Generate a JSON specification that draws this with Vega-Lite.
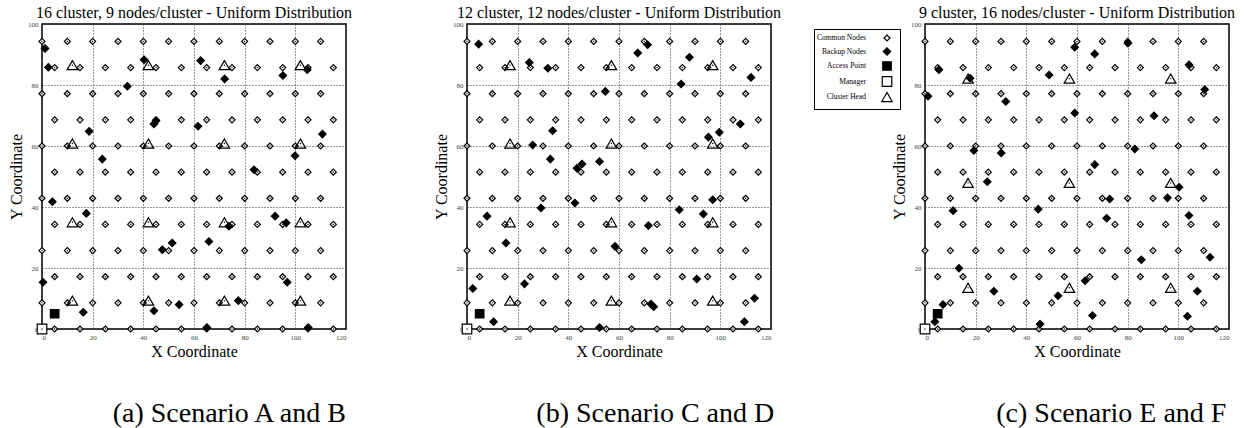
{
"$schema": "https://vega.github.io/schema/vega-lite/v6.json",
"padding": {"left": 7, "top": 4, "right": 0, "bottom": 0},
"config": {
  "font": "Liberation Serif",
  "view": {"stroke": "black", "strokeWidth": 1.5},
  "axis": {"grid": true, "gridDash": [1, 2], "gridColor": "#333", "gridWidth": 1, "gridOpacity": 1, "domain": false, "ticks": false, "labelFont": "Liberation Serif", "labelFontSize": 7, "labelColor": "#444", "titleFont": "Liberation Serif", "titleFontSize": 16, "titleFontWeight": "normal", "titleColor": "black", "labelPadding": 4, "titlePadding": 3},
  "title": {"font": "Liberation Serif", "fontSize": 16, "fontWeight": "normal", "color": "black", "offset": -1},
  "concat": {"spacing": 20}
},
"datasets": {
"nodes": [
{"panel":"all","type":"Common Nodes","x":5,"y":0},{"panel":"all","type":"Common Nodes","x":15,"y":0},{"panel":"all","type":"Common Nodes","x":25,"y":0},{"panel":"all","type":"Common Nodes","x":35,"y":0},{"panel":"all","type":"Common Nodes","x":45,"y":0},{"panel":"all","type":"Common Nodes","x":55,"y":0},{"panel":"all","type":"Common Nodes","x":65,"y":0},{"panel":"all","type":"Common Nodes","x":75,"y":0},{"panel":"all","type":"Common Nodes","x":85,"y":0},{"panel":"all","type":"Common Nodes","x":95,"y":0},{"panel":"all","type":"Common Nodes","x":105,"y":0},{"panel":"all","type":"Common Nodes","x":115,"y":0},
{"panel":"all","type":"Common Nodes","x":0,"y":8.57},{"panel":"all","type":"Common Nodes","x":10,"y":8.57},{"panel":"all","type":"Common Nodes","x":20,"y":8.57},{"panel":"all","type":"Common Nodes","x":30,"y":8.57},{"panel":"all","type":"Common Nodes","x":40,"y":8.57},{"panel":"all","type":"Common Nodes","x":50,"y":8.57},{"panel":"all","type":"Common Nodes","x":60,"y":8.57},{"panel":"all","type":"Common Nodes","x":70,"y":8.57},{"panel":"all","type":"Common Nodes","x":80,"y":8.57},{"panel":"all","type":"Common Nodes","x":90,"y":8.57},{"panel":"all","type":"Common Nodes","x":100,"y":8.57},{"panel":"all","type":"Common Nodes","x":110,"y":8.57},
{"panel":"all","type":"Common Nodes","x":5,"y":17.14},{"panel":"all","type":"Common Nodes","x":15,"y":17.14},{"panel":"all","type":"Common Nodes","x":25,"y":17.14},{"panel":"all","type":"Common Nodes","x":35,"y":17.14},{"panel":"all","type":"Common Nodes","x":45,"y":17.14},{"panel":"all","type":"Common Nodes","x":55,"y":17.14},{"panel":"all","type":"Common Nodes","x":65,"y":17.14},{"panel":"all","type":"Common Nodes","x":75,"y":17.14},{"panel":"all","type":"Common Nodes","x":85,"y":17.14},{"panel":"all","type":"Common Nodes","x":95,"y":17.14},{"panel":"all","type":"Common Nodes","x":105,"y":17.14},{"panel":"all","type":"Common Nodes","x":115,"y":17.14},
{"panel":"all","type":"Common Nodes","x":0,"y":25.71},{"panel":"all","type":"Common Nodes","x":10,"y":25.71},{"panel":"all","type":"Common Nodes","x":20,"y":25.71},{"panel":"all","type":"Common Nodes","x":30,"y":25.71},{"panel":"all","type":"Common Nodes","x":40,"y":25.71},{"panel":"all","type":"Common Nodes","x":50,"y":25.71},{"panel":"all","type":"Common Nodes","x":60,"y":25.71},{"panel":"all","type":"Common Nodes","x":70,"y":25.71},{"panel":"all","type":"Common Nodes","x":80,"y":25.71},{"panel":"all","type":"Common Nodes","x":90,"y":25.71},{"panel":"all","type":"Common Nodes","x":100,"y":25.71},{"panel":"all","type":"Common Nodes","x":110,"y":25.71},
{"panel":"all","type":"Common Nodes","x":5,"y":34.29},{"panel":"all","type":"Common Nodes","x":15,"y":34.29},{"panel":"all","type":"Common Nodes","x":25,"y":34.29},{"panel":"all","type":"Common Nodes","x":35,"y":34.29},{"panel":"all","type":"Common Nodes","x":45,"y":34.29},{"panel":"all","type":"Common Nodes","x":55,"y":34.29},{"panel":"all","type":"Common Nodes","x":65,"y":34.29},{"panel":"all","type":"Common Nodes","x":75,"y":34.29},{"panel":"all","type":"Common Nodes","x":85,"y":34.29},{"panel":"all","type":"Common Nodes","x":95,"y":34.29},{"panel":"all","type":"Common Nodes","x":105,"y":34.29},{"panel":"all","type":"Common Nodes","x":115,"y":34.29},
{"panel":"all","type":"Common Nodes","x":0,"y":42.86},{"panel":"all","type":"Common Nodes","x":10,"y":42.86},{"panel":"all","type":"Common Nodes","x":20,"y":42.86},{"panel":"all","type":"Common Nodes","x":30,"y":42.86},{"panel":"all","type":"Common Nodes","x":40,"y":42.86},{"panel":"all","type":"Common Nodes","x":50,"y":42.86},{"panel":"all","type":"Common Nodes","x":60,"y":42.86},{"panel":"all","type":"Common Nodes","x":70,"y":42.86},{"panel":"all","type":"Common Nodes","x":80,"y":42.86},{"panel":"all","type":"Common Nodes","x":90,"y":42.86},{"panel":"all","type":"Common Nodes","x":100,"y":42.86},{"panel":"all","type":"Common Nodes","x":110,"y":42.86},
{"panel":"all","type":"Common Nodes","x":5,"y":51.43},{"panel":"all","type":"Common Nodes","x":15,"y":51.43},{"panel":"all","type":"Common Nodes","x":25,"y":51.43},{"panel":"all","type":"Common Nodes","x":35,"y":51.43},{"panel":"all","type":"Common Nodes","x":45,"y":51.43},{"panel":"all","type":"Common Nodes","x":55,"y":51.43},{"panel":"all","type":"Common Nodes","x":65,"y":51.43},{"panel":"all","type":"Common Nodes","x":75,"y":51.43},{"panel":"all","type":"Common Nodes","x":85,"y":51.43},{"panel":"all","type":"Common Nodes","x":95,"y":51.43},{"panel":"all","type":"Common Nodes","x":105,"y":51.43},{"panel":"all","type":"Common Nodes","x":115,"y":51.43},
{"panel":"all","type":"Common Nodes","x":0,"y":60},{"panel":"all","type":"Common Nodes","x":10,"y":60},{"panel":"all","type":"Common Nodes","x":20,"y":60},{"panel":"all","type":"Common Nodes","x":30,"y":60},{"panel":"all","type":"Common Nodes","x":40,"y":60},{"panel":"all","type":"Common Nodes","x":50,"y":60},{"panel":"all","type":"Common Nodes","x":60,"y":60},{"panel":"all","type":"Common Nodes","x":70,"y":60},{"panel":"all","type":"Common Nodes","x":80,"y":60},{"panel":"all","type":"Common Nodes","x":90,"y":60},{"panel":"all","type":"Common Nodes","x":100,"y":60},{"panel":"all","type":"Common Nodes","x":110,"y":60},
{"panel":"all","type":"Common Nodes","x":5,"y":68.57},{"panel":"all","type":"Common Nodes","x":15,"y":68.57},{"panel":"all","type":"Common Nodes","x":25,"y":68.57},{"panel":"all","type":"Common Nodes","x":35,"y":68.57},{"panel":"all","type":"Common Nodes","x":45,"y":68.57},{"panel":"all","type":"Common Nodes","x":55,"y":68.57},{"panel":"all","type":"Common Nodes","x":65,"y":68.57},{"panel":"all","type":"Common Nodes","x":75,"y":68.57},{"panel":"all","type":"Common Nodes","x":85,"y":68.57},{"panel":"all","type":"Common Nodes","x":95,"y":68.57},{"panel":"all","type":"Common Nodes","x":105,"y":68.57},{"panel":"all","type":"Common Nodes","x":115,"y":68.57},
{"panel":"all","type":"Common Nodes","x":0,"y":77.14},{"panel":"all","type":"Common Nodes","x":10,"y":77.14},{"panel":"all","type":"Common Nodes","x":20,"y":77.14},{"panel":"all","type":"Common Nodes","x":30,"y":77.14},{"panel":"all","type":"Common Nodes","x":40,"y":77.14},{"panel":"all","type":"Common Nodes","x":50,"y":77.14},{"panel":"all","type":"Common Nodes","x":60,"y":77.14},{"panel":"all","type":"Common Nodes","x":70,"y":77.14},{"panel":"all","type":"Common Nodes","x":80,"y":77.14},{"panel":"all","type":"Common Nodes","x":90,"y":77.14},{"panel":"all","type":"Common Nodes","x":100,"y":77.14},{"panel":"all","type":"Common Nodes","x":110,"y":77.14},
{"panel":"all","type":"Common Nodes","x":5,"y":85.71},{"panel":"all","type":"Common Nodes","x":15,"y":85.71},{"panel":"all","type":"Common Nodes","x":25,"y":85.71},{"panel":"all","type":"Common Nodes","x":35,"y":85.71},{"panel":"all","type":"Common Nodes","x":45,"y":85.71},{"panel":"all","type":"Common Nodes","x":55,"y":85.71},{"panel":"all","type":"Common Nodes","x":65,"y":85.71},{"panel":"all","type":"Common Nodes","x":75,"y":85.71},{"panel":"all","type":"Common Nodes","x":85,"y":85.71},{"panel":"all","type":"Common Nodes","x":95,"y":85.71},{"panel":"all","type":"Common Nodes","x":105,"y":85.71},{"panel":"all","type":"Common Nodes","x":115,"y":85.71},
{"panel":"all","type":"Common Nodes","x":0,"y":94.29},{"panel":"all","type":"Common Nodes","x":10,"y":94.29},{"panel":"all","type":"Common Nodes","x":20,"y":94.29},{"panel":"all","type":"Common Nodes","x":30,"y":94.29},{"panel":"all","type":"Common Nodes","x":40,"y":94.29},{"panel":"all","type":"Common Nodes","x":50,"y":94.29},{"panel":"all","type":"Common Nodes","x":60,"y":94.29},{"panel":"all","type":"Common Nodes","x":70,"y":94.29},{"panel":"all","type":"Common Nodes","x":80,"y":94.29},{"panel":"all","type":"Common Nodes","x":90,"y":94.29},{"panel":"all","type":"Common Nodes","x":100,"y":94.29},{"panel":"all","type":"Common Nodes","x":110,"y":94.29},

{"panel":"a","type":"Backup Nodes","x":1.2,"y":92.0},{"panel":"a","type":"Backup Nodes","x":2.5,"y":85.8},{"panel":"a","type":"Backup Nodes","x":40.3,"y":88.3},{"panel":"a","type":"Backup Nodes","x":62.6,"y":88.0},{"panel":"a","type":"Backup Nodes","x":72.1,"y":82.0},{"panel":"a","type":"Backup Nodes","x":95.1,"y":83.1},{"panel":"a","type":"Backup Nodes","x":104.7,"y":85.0},{"panel":"a","type":"Backup Nodes","x":33.7,"y":79.6},{"panel":"a","type":"Backup Nodes","x":44.2,"y":67.2},{"panel":"a","type":"Backup Nodes","x":45.0,"y":68.3},{"panel":"a","type":"Backup Nodes","x":61.6,"y":66.5},{"panel":"a","type":"Backup Nodes","x":18.6,"y":64.8},{"panel":"a","type":"Backup Nodes","x":110.7,"y":63.9},{"panel":"a","type":"Backup Nodes","x":23.8,"y":55.7},{"panel":"a","type":"Backup Nodes","x":99.9,"y":56.8},{"panel":"a","type":"Backup Nodes","x":83.7,"y":52.2},{"panel":"a","type":"Backup Nodes","x":4.1,"y":41.7},{"panel":"a","type":"Backup Nodes","x":17.5,"y":37.9},{"panel":"a","type":"Backup Nodes","x":92.0,"y":37.0},{"panel":"a","type":"Backup Nodes","x":96.4,"y":34.8},{"panel":"a","type":"Backup Nodes","x":73.8,"y":33.7},{"panel":"a","type":"Backup Nodes","x":51.4,"y":28.2},{"panel":"a","type":"Backup Nodes","x":47.5,"y":26.0},{"panel":"a","type":"Backup Nodes","x":65.9,"y":28.7},{"panel":"a","type":"Backup Nodes","x":0.4,"y":15.3},{"panel":"a","type":"Backup Nodes","x":96.8,"y":15.3},{"panel":"a","type":"Backup Nodes","x":16.3,"y":5.5},{"panel":"a","type":"Backup Nodes","x":44.2,"y":6.0},{"panel":"a","type":"Backup Nodes","x":54.1,"y":8.0},{"panel":"a","type":"Backup Nodes","x":77.5,"y":9.3},{"panel":"a","type":"Backup Nodes","x":65.1,"y":0.5},{"panel":"a","type":"Backup Nodes","x":105.1,"y":0.5},
{"panel":"a","type":"Access Point","x":5,"y":5},
{"panel":"a","type":"Manager","x":0,"y":0},
{"panel":"a","type":"Cluster Head","x":12,"y":86.5},{"panel":"a","type":"Cluster Head","x":42,"y":86.5},{"panel":"a","type":"Cluster Head","x":72,"y":86.5},{"panel":"a","type":"Cluster Head","x":102,"y":86.5},
{"panel":"a","type":"Cluster Head","x":12,"y":60.8},{"panel":"a","type":"Cluster Head","x":42,"y":60.8},{"panel":"a","type":"Cluster Head","x":72,"y":60.8},{"panel":"a","type":"Cluster Head","x":102,"y":60.8},
{"panel":"a","type":"Cluster Head","x":12,"y":35.0},{"panel":"a","type":"Cluster Head","x":42,"y":35.0},{"panel":"a","type":"Cluster Head","x":72,"y":35.0},{"panel":"a","type":"Cluster Head","x":102,"y":35.0},
{"panel":"a","type":"Cluster Head","x":12,"y":9.3},{"panel":"a","type":"Cluster Head","x":42,"y":9.3},{"panel":"a","type":"Cluster Head","x":72,"y":9.3},{"panel":"a","type":"Cluster Head","x":102,"y":9.3},

{"panel":"b","type":"Backup Nodes","x":4.6,"y":93.4},{"panel":"b","type":"Backup Nodes","x":24.6,"y":87.4},{"panel":"b","type":"Backup Nodes","x":31.9,"y":85.5},{"panel":"b","type":"Backup Nodes","x":67.4,"y":90.5},{"panel":"b","type":"Backup Nodes","x":71.3,"y":93.2},{"panel":"b","type":"Backup Nodes","x":87.8,"y":89.1},{"panel":"b","type":"Backup Nodes","x":84.5,"y":80.3},{"panel":"b","type":"Backup Nodes","x":112.1,"y":82.5},{"panel":"b","type":"Backup Nodes","x":54.6,"y":77.9},{"panel":"b","type":"Backup Nodes","x":33.8,"y":65.0},{"panel":"b","type":"Backup Nodes","x":107.9,"y":67.2},{"panel":"b","type":"Backup Nodes","x":99.6,"y":64.5},{"panel":"b","type":"Backup Nodes","x":95.3,"y":62.9},{"panel":"b","type":"Backup Nodes","x":25.9,"y":60.3},{"panel":"b","type":"Backup Nodes","x":32.9,"y":55.7},{"panel":"b","type":"Backup Nodes","x":43.4,"y":52.7},{"panel":"b","type":"Backup Nodes","x":45.4,"y":54.1},{"panel":"b","type":"Backup Nodes","x":52.3,"y":54.9},{"panel":"b","type":"Backup Nodes","x":7.9,"y":37.0},{"panel":"b","type":"Backup Nodes","x":29.2,"y":39.7},{"panel":"b","type":"Backup Nodes","x":42.6,"y":41.3},{"panel":"b","type":"Backup Nodes","x":15.4,"y":28.2},{"panel":"b","type":"Backup Nodes","x":58.4,"y":27.1},{"panel":"b","type":"Backup Nodes","x":71.6,"y":33.9},{"panel":"b","type":"Backup Nodes","x":83.8,"y":39.1},{"panel":"b","type":"Backup Nodes","x":93.3,"y":37.7},{"panel":"b","type":"Backup Nodes","x":97.0,"y":42.4},{"panel":"b","type":"Backup Nodes","x":2.3,"y":13.3},{"panel":"b","type":"Backup Nodes","x":22.7,"y":14.8},{"panel":"b","type":"Backup Nodes","x":10.5,"y":2.4},{"panel":"b","type":"Backup Nodes","x":52.3,"y":0.5},{"panel":"b","type":"Backup Nodes","x":72.6,"y":8.2},{"panel":"b","type":"Backup Nodes","x":73.7,"y":7.3},{"panel":"b","type":"Backup Nodes","x":90.7,"y":16.4},{"panel":"b","type":"Backup Nodes","x":113.5,"y":10.1},{"panel":"b","type":"Backup Nodes","x":109.5,"y":2.4},
{"panel":"b","type":"Access Point","x":5,"y":5},
{"panel":"b","type":"Manager","x":0,"y":0},
{"panel":"b","type":"Cluster Head","x":17,"y":86.5},{"panel":"b","type":"Cluster Head","x":57,"y":86.5},{"panel":"b","type":"Cluster Head","x":97,"y":86.5},
{"panel":"b","type":"Cluster Head","x":17,"y":60.8},{"panel":"b","type":"Cluster Head","x":57,"y":60.8},{"panel":"b","type":"Cluster Head","x":97,"y":60.8},
{"panel":"b","type":"Cluster Head","x":17,"y":35.0},{"panel":"b","type":"Cluster Head","x":57,"y":35.0},{"panel":"b","type":"Cluster Head","x":97,"y":35.0},
{"panel":"b","type":"Cluster Head","x":17,"y":9.3},{"panel":"b","type":"Cluster Head","x":57,"y":9.3},{"panel":"b","type":"Cluster Head","x":97,"y":9.3},

{"panel":"c","type":"Backup Nodes","x":5.5,"y":85.0},{"panel":"c","type":"Backup Nodes","x":17.8,"y":82.2},{"panel":"c","type":"Backup Nodes","x":1.2,"y":76.3},{"panel":"c","type":"Backup Nodes","x":31.9,"y":74.6},{"panel":"c","type":"Backup Nodes","x":49.0,"y":83.3},{"panel":"c","type":"Backup Nodes","x":59.1,"y":92.4},{"panel":"c","type":"Backup Nodes","x":67.0,"y":90.2},{"panel":"c","type":"Backup Nodes","x":80.1,"y":93.7},{"panel":"c","type":"Backup Nodes","x":59.1,"y":70.8},{"panel":"c","type":"Backup Nodes","x":90.4,"y":69.9},{"panel":"c","type":"Backup Nodes","x":104.2,"y":86.6},{"panel":"c","type":"Backup Nodes","x":110.4,"y":78.5},{"panel":"c","type":"Backup Nodes","x":19.3,"y":58.5},{"panel":"c","type":"Backup Nodes","x":30.1,"y":57.7},{"panel":"c","type":"Backup Nodes","x":82.8,"y":59.0},{"panel":"c","type":"Backup Nodes","x":67.0,"y":53.9},{"panel":"c","type":"Backup Nodes","x":24.6,"y":48.3},{"panel":"c","type":"Backup Nodes","x":100.3,"y":46.5},{"panel":"c","type":"Backup Nodes","x":95.7,"y":43.0},{"panel":"c","type":"Backup Nodes","x":72.9,"y":42.6},{"panel":"c","type":"Backup Nodes","x":11.1,"y":38.8},{"panel":"c","type":"Backup Nodes","x":44.7,"y":39.3},{"panel":"c","type":"Backup Nodes","x":71.7,"y":36.3},{"panel":"c","type":"Backup Nodes","x":104.2,"y":37.2},{"panel":"c","type":"Backup Nodes","x":85.4,"y":22.7},{"panel":"c","type":"Backup Nodes","x":112.5,"y":23.5},{"panel":"c","type":"Backup Nodes","x":13.4,"y":19.9},{"panel":"c","type":"Backup Nodes","x":27.2,"y":12.4},{"panel":"c","type":"Backup Nodes","x":52.5,"y":10.9},{"panel":"c","type":"Backup Nodes","x":63.2,"y":15.8},{"panel":"c","type":"Backup Nodes","x":66.1,"y":4.4},{"panel":"c","type":"Backup Nodes","x":45.4,"y":1.6},{"panel":"c","type":"Backup Nodes","x":107.5,"y":12.4},{"panel":"c","type":"Backup Nodes","x":103.6,"y":4.2},{"panel":"c","type":"Backup Nodes","x":7.1,"y":8.0},{"panel":"c","type":"Backup Nodes","x":3.9,"y":2.4},
{"panel":"c","type":"Access Point","x":5,"y":5},
{"panel":"c","type":"Manager","x":0,"y":0},
{"panel":"c","type":"Cluster Head","x":17,"y":82.1},{"panel":"c","type":"Cluster Head","x":57,"y":82.1},{"panel":"c","type":"Cluster Head","x":97,"y":82.1},
{"panel":"c","type":"Cluster Head","x":17,"y":47.9},{"panel":"c","type":"Cluster Head","x":57,"y":47.9},{"panel":"c","type":"Cluster Head","x":97,"y":47.9},
{"panel":"c","type":"Cluster Head","x":17,"y":13.5},{"panel":"c","type":"Cluster Head","x":57,"y":13.5},{"panel":"c","type":"Cluster Head","x":97,"y":13.5}
]
},
"resolve": {"scale": {"shape": "independent", "fill": "independent", "size": "independent", "stroke": "independent"}, "legend": {"shape": "independent", "fill": "independent", "size": "independent", "stroke": "independent"}},
"spacing": 30,
"hconcat": [
 {
  "spacing": 79,
  "resolve": {"scale": {"shape": "independent", "fill": "independent", "size": "independent", "stroke": "independent"}, "legend": {"shape": "independent", "fill": "independent", "size": "independent", "stroke": "independent"}},
  "hconcat": [
   {
    "title": {"text": "(a) Scenario A and B", "orient": "bottom", "anchor": "middle", "dx": 49, "offset": 40, "fontSize": 28, "font": "Liberation Serif"},
    "resolve": {"scale": {"shape": "independent", "fill": "independent", "size": "independent", "stroke": "independent"}, "legend": {"shape": "independent", "fill": "independent", "size": "independent", "stroke": "independent"}},
    "vconcat": [
     {
      "width": 304, "height": 305,
      "title": {"text": "16 cluster, 9 nodes/cluster - Uniform Distribution"},
      "data": {"name": "nodes"},
      "transform": [{"filter": "datum.panel === 'all' || datum.panel === 'a'"}],
      "encoding": {
        "x": {"field": "x", "type": "quantitative", "scale": {"domain": [0, 120], "nice": false, "zero": false}, "axis": {"title": "X Coordinate", "values": [0, 20, 40, 60, 80, 100, 120]}},
        "y": {"field": "y", "type": "quantitative", "scale": {"domain": [0, 100], "nice": false, "zero": false}, "axis": {"title": "Y Coordinate", "values": [0, 20, 40, 60, 80, 100]}}
      },
      "layer": [
        {"mark": {"type": "point", "filled": true, "stroke": "black", "strokeWidth": 1.2, "opacity": 1, "clip": false},
         "encoding": {
           "shape": {"field": "type", "type": "nominal", "scale": {"domain": ["Common Nodes", "Backup Nodes", "Access Point", "Manager", "Cluster Head"], "range": ["diamond", "diamond", "square", "square", "triangle-up"]}, "legend": null},
           "fill": {"field": "type", "type": "nominal", "scale": {"domain": ["Common Nodes", "Backup Nodes", "Access Point", "Manager", "Cluster Head"], "range": ["white", "black", "black", "white", "transparent"]}, "legend": null},
           "size": {"field": "type", "type": "nominal", "scale": {"domain": ["Common Nodes", "Backup Nodes", "Access Point", "Manager", "Cluster Head"], "range": [36, 110, 130, 70, 240]}, "legend": null}
         }},
        {"transform": [{"filter": {"field": "type", "oneOf": ["Common Nodes", "Manager", "Cluster Head"]}}],
         "mark": {"type": "point", "shape": "circle", "filled": true, "fill": "black", "strokeWidth": 0, "size": 2, "opacity": 1, "clip": false}}
      ]
     }
    ]
   },
   {
    "title": {"text": "(b) Scenario C and D", "orient": "bottom", "anchor": "middle", "dx": 48, "offset": 40, "fontSize": 28, "font": "Liberation Serif"},
    "resolve": {"scale": {"shape": "independent", "fill": "independent", "size": "independent", "stroke": "independent"}, "legend": {"shape": "independent", "fill": "independent", "size": "independent", "stroke": "independent"}},
    "vconcat": [
     {
      "width": 304, "height": 305,
      "title": {"text": "12 cluster, 12 nodes/cluster - Uniform Distribution"},
      "data": {"name": "nodes"},
      "transform": [{"filter": "datum.panel === 'all' || datum.panel === 'b'"}],
      "encoding": {
        "x": {"field": "x", "type": "quantitative", "scale": {"domain": [0, 120], "nice": false, "zero": false}, "axis": {"title": "X Coordinate", "values": [0, 20, 40, 60, 80, 100, 120]}},
        "y": {"field": "y", "type": "quantitative", "scale": {"domain": [0, 100], "nice": false, "zero": false}, "axis": {"title": "Y Coordinate", "values": [0, 20, 40, 60, 80, 100]}}
      },
      "layer": [
        {"mark": {"type": "point", "filled": true, "stroke": "black", "strokeWidth": 1.2, "opacity": 1, "clip": false},
         "encoding": {
           "shape": {"field": "type", "type": "nominal", "scale": {"domain": ["Common Nodes", "Backup Nodes", "Access Point", "Manager", "Cluster Head"], "range": ["diamond", "diamond", "square", "square", "triangle-up"]}, "legend": null},
           "fill": {"field": "type", "type": "nominal", "scale": {"domain": ["Common Nodes", "Backup Nodes", "Access Point", "Manager", "Cluster Head"], "range": ["white", "black", "black", "white", "transparent"]}, "legend": null},
           "size": {"field": "type", "type": "nominal", "scale": {"domain": ["Common Nodes", "Backup Nodes", "Access Point", "Manager", "Cluster Head"], "range": [36, 110, 130, 70, 240]}, "legend": null}
         }},
        {"transform": [{"filter": {"field": "type", "oneOf": ["Common Nodes", "Manager", "Cluster Head"]}}],
         "mark": {"type": "point", "shape": "circle", "filled": true, "fill": "black", "strokeWidth": 0, "size": 2, "opacity": 1, "clip": false}}
      ]
     }
    ]
   }
  ]
 },
 {
  "title": {"text": "(c) Scenario E and F", "orient": "bottom", "anchor": "middle", "dx": 87, "offset": 40, "fontSize": 28, "font": "Liberation Serif"},
  "resolve": {"scale": {"shape": "independent", "fill": "independent", "size": "independent", "stroke": "independent"}, "legend": {"shape": "independent", "fill": "independent", "size": "independent", "stroke": "independent"}},
  "vconcat": [
   {
    "width": 304, "height": 305,
    "title": {"text": "9 cluster, 16 nodes/cluster - Uniform Distribution"},
    "data": {"name": "nodes"},
    "transform": [{"filter": "datum.panel === 'all' || datum.panel === 'c'"}],
    "encoding": {
      "x": {"field": "x", "type": "quantitative", "scale": {"domain": [0, 120], "nice": false, "zero": false}, "axis": {"title": "X Coordinate", "values": [0, 20, 40, 60, 80, 100, 120]}},
      "y": {"field": "y", "type": "quantitative", "scale": {"domain": [0, 100], "nice": false, "zero": false}, "axis": {"title": "Y Coordinate", "values": [0, 20, 40, 60, 80, 100]}}
    },
    "layer": [
      {"mark": {"type": "point", "filled": true, "stroke": "black", "strokeWidth": 1.2, "opacity": 1, "clip": false},
       "encoding": {
         "shape": {"field": "type", "type": "nominal", "scale": {"domain": ["Common Nodes", "Backup Nodes", "Access Point", "Manager", "Cluster Head"], "range": ["diamond", "diamond", "square", "square", "triangle-up"]},
           "legend": {"orient": "none", "legendX": -111, "legendY": 5, "title": null, "labelAlign": "right", "labelOffset": -27, "symbolOffset": 62, "labelFont": "Liberation Serif", "labelFontSize": 7.5, "labelColor": "black", "strokeColor": "black", "padding": 5, "rowPadding": 1, "symbolStrokeWidth": 1.2}},
         "fill": {"field": "type", "type": "nominal", "scale": {"domain": ["Common Nodes", "Backup Nodes", "Access Point", "Manager", "Cluster Head"], "range": ["white", "black", "black", "white", "transparent"]},
           "legend": {"orient": "none", "legendX": -111, "legendY": 5, "title": null, "labelAlign": "right", "labelOffset": -27, "symbolOffset": 62, "labelFont": "Liberation Serif", "labelFontSize": 7.5, "labelColor": "black", "strokeColor": "black", "padding": 5, "rowPadding": 1, "symbolStrokeWidth": 1.2}},
         "stroke": {"field": "type", "type": "nominal", "scale": {"domain": ["Common Nodes", "Backup Nodes", "Access Point", "Manager", "Cluster Head"], "range": ["black", "black", "black", "black", "black"]},
           "legend": {"orient": "none", "legendX": -111, "legendY": 5, "title": null, "labelAlign": "right", "labelOffset": -27, "symbolOffset": 62, "labelFont": "Liberation Serif", "labelFontSize": 7.5, "labelColor": "black", "strokeColor": "black", "padding": 5, "rowPadding": 1, "symbolStrokeWidth": 1.2}},
         "size": {"field": "type", "type": "nominal", "scale": {"domain": ["Common Nodes", "Backup Nodes", "Access Point", "Manager", "Cluster Head"], "range": [36, 110, 130, 70, 240]},
           "legend": {"orient": "none", "legendX": -111, "legendY": 5, "title": null, "labelAlign": "right", "labelOffset": -27, "symbolOffset": 62, "labelFont": "Liberation Serif", "labelFontSize": 7.5, "labelColor": "black", "strokeColor": "black", "padding": 5, "rowPadding": 1, "symbolStrokeWidth": 1.2}}
       }},
      {"transform": [{"filter": {"field": "type", "oneOf": ["Common Nodes", "Manager", "Cluster Head"]}}],
       "mark": {"type": "point", "shape": "circle", "filled": true, "fill": "black", "strokeWidth": 0, "size": 2, "opacity": 1, "clip": false}}
    ]
   }
  ]
 }
]
}
